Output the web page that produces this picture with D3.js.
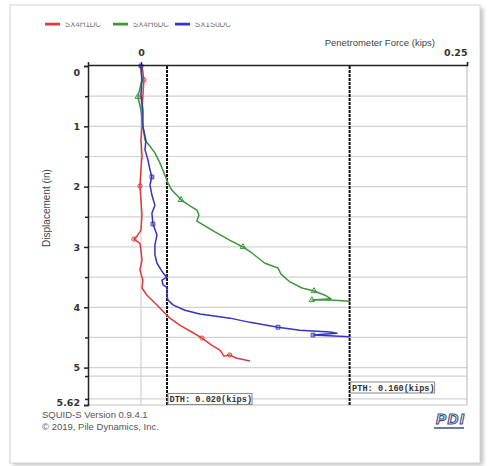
<!DOCTYPE html>
<html>
<head>
<meta charset="utf-8">
<script src="https://cdn.jsdelivr.net/npm/d3@7"></script>
<style>
  body { margin: 0; background: #fff; }
  text { font-family: "Liberation Sans", Arial, sans-serif; }
</style>
</head>
<body>
<script>

// depth (in) / force (kips) pairs
var redDepth = [0, 0.23, 0.48, 0.73, 1.0, 1.23, 1.49, 1.72, 1.99, 2.22, 2.47, 2.72, 2.82, 2.87, 2.94, 3.05, 3.22, 3.38, 3.55, 3.68, 3.8, 3.88, 3.98, 4.1, 4.18, 4.3, 4.41, 4.51, 4.63, 4.71, 4.81, 4.79, 4.84, 4.89];
var redForce = [0.0008, 0.0023, 0.0015, 0.0008, 0.0008, 0, 0.0008, 0, -0.0008, 0, 0.0008, 0, -0.003, -0.0054, -0.0008, 0, 0.0008, -0.0008, 0.0015, 0.0008, 0.0046, 0.0084, 0.013, 0.0184, 0.0222, 0.03, 0.039, 0.0468, 0.0544, 0.0606, 0.0637, 0.068, 0.0729, 0.0836];

var greenDepth = [0, 0.23, 0.51, 0.73, 1.0, 1.23, 1.33, 1.44, 1.61, 1.77, 1.94, 2.06, 2.16, 2.22, 2.32, 2.39, 2.47, 2.57, 2.65, 2.75, 2.89, 3.0, 3.1, 3.27, 3.35, 3.45, 3.58, 3.68, 3.73, 3.8, 3.86, 3.88, 3.88, 3.9];
var greenForce = [0, 0.0008, -0.0023, 0, 0.0015, 0.0031, 0.0069, 0.0107, 0.0146, 0.0176, 0.0207, 0.0238, 0.0284, 0.0307, 0.0376, 0.0429, 0.0445, 0.0429, 0.0491, 0.0567, 0.0683, 0.0782, 0.0851, 0.0951, 0.1051, 0.1074, 0.1143, 0.1235, 0.1327, 0.1411, 0.1457, 0.1311, 0.1449, 0.1603];

var blueDepth = [0, 0.23, 0.48, 0.73, 1.0, 1.23, 1.39, 1.56, 1.72, 1.84, 1.97, 2.14, 2.31, 2.44, 2.62, 2.8, 2.97, 3.13, 3.27, 3.43, 3.5, 3.55, 3.63, 3.67, 3.8, 3.88, 3.96, 4.05, 4.11, 4.18, 4.25, 4.33, 4.38, 4.41, 4.43, 4.46, 4.49];
var blueForce = [0, 0.0008, 0, 0.0015, 0.0015, 0.0038, 0.0031, 0.0054, 0.0069, 0.0084, 0.0069, 0.0084, 0.0107, 0.0084, 0.0092, 0.0123, 0.0107, 0.0107, 0.0123, 0.0169, 0.0199, 0.0161, 0.0169, 0.0199, 0.0199, 0.0207, 0.0245, 0.0337, 0.0452, 0.0683, 0.0836, 0.1051, 0.1219, 0.1449, 0.1503, 0.1319, 0.1603];

// which points carry a marker
var redMarks = [1, 8, 13, 27, 31];
var greenMarks = [2, 13, 21, 28, 31];
var blueMarks = [0, 9, 14, 31, 35];

var seriesNames = ["SX4H1DC", "SX4H6DC", "SX1S0DC"];
var seriesColors = ["#e03a3a", "#3a983a", "#3434c4"];

var yTicks = [0, 1, 2, 3, 4, 5, 5.62];
var yMinor = [0.5, 1.5, 2.5, 3.5, 4.5, 5.14, 5.52];
var gridLines = [0.5, 1, 1.5, 2, 2.5, 3, 3.5, 4, 4.5, 5, 5.14, 5.52];

var thresholds = [
    { name: "DTH", value: 0.020 },
    { name: "PTH", value: 0.160 }
];
var thresholdDepth = [5.52, 5.33]; // where each label box sits

var width = 493, height = 466;

var svg = d3.select("body").append("svg")
    .attr("width", width)
    .attr("height", height);

// frame with a soft shadow
var defs = svg.append("defs");
defs.append("filter")
    .attr("id", "shadow")
    .append("feGaussianBlur")
    .attr("stdDeviation", "2");
defs.append("clipPath")
    .attr("id", "legendClip")
    .append("rect")
    .attr("x", 0).attr("y", 22.5).attr("width", width).attr("height", 20);

svg.append("rect")
    .attr("x", 13).attr("y", 8).attr("width", 470).attr("height", 457)
    .attr("fill", "#bbb")
    .style("filter", "url(#shadow)");
svg.append("rect")
    .attr("x", 10).attr("y", 5).attr("width", 470).attr("height", 458)
    .attr("fill", "#fff")
    .attr("stroke", "#d4d4d4");

var x = d3.scaleLinear().domain([-0.0406, 0.25]).range([88, 467]);
var y = d3.scaleLinear().domain([0, 5.62]).range([66, 405]);

// grid
svg.append("g")
    .selectAll("line")
    .data(gridLines)
    .enter().append("line")
    .attr("x1", x.range()[0]).attr("x2", x.range()[1])
    .attr("y1", d => y(d)).attr("y2", d => y(d))
    .attr("stroke", "#d2d2d2")
    .attr("stroke-width", 1.2);

svg.append("line")
    .attr("x1", x(0)).attr("x2", x(0))
    .attr("y1", y(0)).attr("y2", y(5.62))
    .attr("stroke", "#d2d2d2").attr("stroke-width", 1.2);

// right and bottom edges
svg.append("path")
    .attr("d", "M" + x(0.25) + "," + y(0) + "V" + y(5.62) + "H" + x.range()[0])
    .attr("fill", "none")
    .attr("stroke", "#c4c4c4")
    .attr("stroke-width", 1.2);

// threshold lines
svg.append("g")
    .selectAll("line")
    .data(thresholds)
    .enter().append("line")
    .attr("x1", d => x(d.value)).attr("x2", d => x(d.value))
    .attr("y1", y(0)).attr("y2", y(5.62))
    .attr("stroke", "#111")
    .attr("stroke-width", 2)
    .attr("stroke-dasharray", "3,1");

// label boxes for thresholds
var th = svg.append("g")
    .selectAll("g")
    .data(thresholds)
    .enter().append("g")
    .attr("transform", (d, i) => "translate(" + (x(d.value) + 1) + "," + y(thresholdDepth[i]) + ")");
th.append("rect")
    .attr("x", 0).attr("y", -5.5)
    .attr("width", 84).attr("height", 11)
    .attr("fill", "#fff")
    .attr("stroke", "#888");
th.append("text")
    .attr("x", 1.5).attr("y", 3)
    .style("font-family", "'Liberation Mono', 'DejaVu Sans Mono', monospace")
    .style("font-size", "8.6px")
    .style("font-weight", "bold")
    .attr("fill", "#333")
    .text(d => d.name + ": " + d.value.toFixed(3) + "(kips)");

// series
var series = [
    { depth: redDepth, force: redForce, marks: redMarks },
    { depth: greenDepth, force: greenForce, marks: greenMarks },
    { depth: blueDepth, force: blueForce, marks: blueMarks }
];

var line = d3.line()
    .x(d => x(d[1]))
    .y(d => y(d[0]));

var shapes = [d3.symbolCircle, d3.symbolTriangle, d3.symbolSquare];

series.forEach(function (s, k) {
    var pts = s.depth.map((d, i) => [d, s.force[i]]);
    svg.append("path")
        .datum(pts)
        .attr("d", line)
        .attr("fill", "none")
        .attr("stroke", seriesColors[k])
        .attr("stroke-width", 1.5)
        .attr("stroke-linejoin", "round");
    svg.append("g")
        .selectAll("path")
        .data(s.marks.map(i => pts[i]))
        .enter().append("path")
        .attr("transform", d => "translate(" + x(d[1]) + "," + y(d[0]) + ")")
        .attr("d", d3.symbol().type(shapes[k]).size(14))
        .attr("fill", "none")
        .attr("stroke", seriesColors[k])
        .attr("stroke-width", 1);
});

// left axis
var yAxis = svg.append("g")
    .attr("transform", "translate(" + x.range()[0] + ",0)")
    .call(d3.axisLeft(y).tickValues(yTicks).tickSize(4).tickPadding(4)
        .tickFormat(d => d === 5.62 ? "5.62" : d3.format("d")(d)));
yAxis.select(".domain").attr("stroke", "#222").attr("stroke-width", 1.5);
yAxis.selectAll(".tick line").attr("stroke", "#222").attr("stroke-width", 1.5);
yAxis.selectAll(".tick text")
    .attr("fill", "#333")
    .style("font-family", "'DejaVu Sans', sans-serif")
    .style("font-size", "9.5px")
    .style("font-weight", "bold")
    .attr("dy", d => d === 0 ? "0.95em" : (d === 5.62 ? "0" : "0.32em"));

var yMinorAxis = svg.append("g")
    .attr("transform", "translate(" + x.range()[0] + ",0)")
    .call(d3.axisLeft(y).tickValues(yMinor).tickSize(3).tickFormat(""));
yMinorAxis.select(".domain").remove();
yMinorAxis.selectAll(".tick line").attr("stroke", "#222").attr("stroke-width", 1.5);

// top axis
var xAxis = svg.append("g")
    .attr("transform", "translate(0," + (y(0) - 1) + ")")
    .call(d3.axisTop(x).tickValues([0, 0.25]).tickSize(3).tickPadding(6)
        .tickFormat(d => d === 0 ? "0" : "0.25"));
xAxis.select(".domain").attr("stroke", "#222").attr("stroke-width", 1.5);
xAxis.selectAll(".tick line").attr("stroke", "#222").attr("stroke-width", 1.2);
xAxis.selectAll(".tick text")
    .attr("fill", "#333")
    .style("font-family", "'DejaVu Sans', sans-serif")
    .style("font-size", "9.5px")
    .style("font-weight", "bold")
    .attr("text-anchor", d => d === 0.25 ? "end" : "middle");

// axis titles
svg.append("text")
    .attr("x", 435).attr("y", 46)
    .attr("text-anchor", "end")
    .attr("fill", "#444")
    .style("font-size", "9.5px")
    .text("Penetrometer Force (kips)");

svg.append("text")
    .attr("transform", "translate(50,208) rotate(-90)")
    .attr("text-anchor", "middle")
    .attr("fill", "#444")
    .style("font-size", "10px")
    .text("Displacement (in)");

// legend, its top is cut off in the picture
var legend = svg.append("g")
    .attr("clip-path", "url(#legendClip)")
    .selectAll("g")
    .data(seriesNames)
    .enter().append("g")
    .attr("transform", (d, i) => "translate(" + [45, 113, 175][i] + ",22)");
legend.append("line")
    .attr("x1", 0).attr("x2", 15)
    .attr("y1", 2).attr("y2", 2)
    .attr("stroke", (d, i) => seriesColors[i])
    .attr("stroke-width", 3);
legend.append("text")
    .attr("x", 20).attr("y", 5)
    .attr("fill", "#777")
    .style("font-size", "9px")
    .attr("textLength", 36)
    .attr("lengthAdjust", "spacingAndGlyphs")
    .text(d => d);

// footer
svg.append("text")
    .attr("x", 42).attr("y", 418)
    .attr("fill", "#555")
    .style("font-size", "9.5px")
    .text("SQUID-S Version 0.9.4.1");
svg.append("text")
    .attr("x", 42).attr("y", 430)
    .attr("fill", "#555")
    .style("font-size", "9.5px")
    .text("\u00a9 2019, Pile Dynamics, Inc.");

// PDI logo
var logo = svg.append("g").attr("transform", "translate(434,412)");
logo.append("text")
    .attr("x", 2).attr("y", 12)
    .style("font-size", "15px")
    .style("font-weight", "bold")
    .style("font-style", "italic")
    .attr("fill", "none")
    .attr("stroke", "#3b4c8c")
    .attr("stroke-width", 1.1)
    .attr("textLength", 28)
    .text("PDI");
logo.append("line")
    .attr("x1", 0).attr("x2", 30)
    .attr("y1", 16).attr("y2", 16)
    .attr("stroke", "#3b4c8c")
    .attr("stroke-width", 1.5);

</script>
</body>
</html>
